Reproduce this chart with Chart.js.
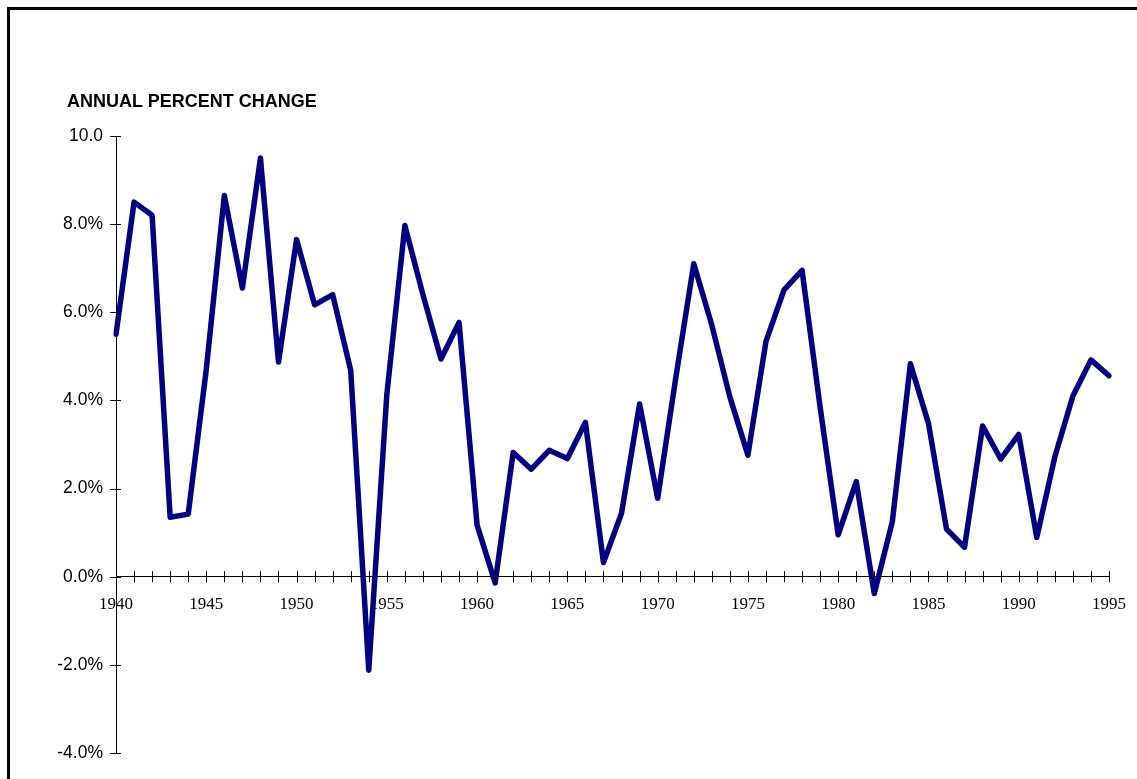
<!DOCTYPE html>
<html>
<head>
<meta charset="utf-8">
<script src="https://cdn.jsdelivr.net/npm/chart.js@4/dist/chart.umd.min.js"></script>
<style>
  html, body { margin: 0; padding: 0; background: #fff; overflow: hidden; }
  #wrap { position: relative; width: 1137px; height: 779px; }
  #frame {
    position: absolute; left: 7px; top: 7px; width: 2000px; height: 2000px;
    border-left: 3px solid #000; border-top: 3px solid #000; pointer-events: none;
  }
  #title {
    position: absolute; left: 67px; top: 91px; line-height: 18px;
    font: bold 18px "Liberation Sans", Arial, sans-serif; color: #000; white-space: nowrap;
  }
  canvas { position: absolute; left: 0; top: 0; }
</style>
</head>
<body>
<div id="wrap">
  <canvas id="chart" width="1137" height="779"></canvas>
  <div id="frame"></div>
  <div id="title">ANNUAL PERCENT CHANGE</div>
</div>
<script>
const years = [];
for (let y = 1940; y <= 1995; y++) years.push(y);

const pctChange = [
  5.5, 8.5, 8.2, 1.35, 1.42, 4.7, 8.65, 6.55, 9.5, 4.87,
  7.65, 6.17, 6.4, 4.68, -2.12, 4.13, 7.97, 6.4, 4.94, 5.77,
  1.17, -0.14, 2.82, 2.44, 2.87, 2.68, 3.5, 0.32, 1.44, 3.92,
  1.78, 4.5, 7.1, 5.71, 4.08, 2.76, 5.34, 6.51, 6.95, 3.85,
  0.95, 2.16, -0.38, 1.25, 4.83, 3.48, 1.08, 0.67, 3.42, 2.67,
  3.23, 0.89, 2.72, 4.1, 4.92, 4.56
];

const yMin = -4, yMax = 10, yStep = 2;

// tick marks that cross the axis lines
const crossTicks = {
  id: 'crossTicks',
  afterDraw(chart) {
    const { ctx, scales: { x, y } } = chart;
    const y0 = y.getPixelForValue(0);
    ctx.save();
    ctx.strokeStyle = '#000';
    ctx.lineWidth = 1;
    ctx.beginPath();
    x.ticks.forEach((t, i) => {
      const px = Math.round(x.getPixelForTick(i)) + 0.5;
      ctx.moveTo(px, y0 - 5.5);
      ctx.lineTo(px, y0 + 5.5);
    });
    y.ticks.forEach((t, i) => {
      const py = Math.round(y.getPixelForTick(i)) + 0.5;
      ctx.moveTo(x.left - 6, py);
      ctx.lineTo(x.left + 5, py);
    });
    ctx.stroke();
    ctx.restore();
  }
};

new Chart(document.getElementById('chart'), {
  type: 'line',
  data: {
    labels: years,
    datasets: [{
      data: pctChange,
      borderColor: '#000080',
      borderWidth: 5.5,
      borderJoinStyle: 'round',
      borderCapStyle: 'round',
      pointRadius: 0,
      tension: 0,
      fill: false
    }]
  },
  options: {
    responsive: false,
    animation: false,
    layout: { padding: { left: 0, top: 136, right: 28, bottom: 26 } },
    plugins: { legend: { display: false }, tooltip: { enabled: false } },
    scales: {
      x: {
        type: 'category',
        offset: false,
        position: { y: 0 },
        grid: { display: false, drawTicks: false, tickLength: 0 },
        border: { display: true, color: '#000', width: 1 },
        ticks: {
          autoSkip: false,
          maxRotation: 0,
          padding: 18,
          color: '#000',
          font: { family: '"Liberation Serif", "Times New Roman", serif', size: 17 },
          callback: (v, i) => (years[i] % 5 === 0 ? String(years[i]) : '')
        },
        afterFit: s => { s.height = 0; s.paddingLeft = 0; s.paddingRight = 0; }
      },
      y: {
        min: yMin,
        max: yMax,
        grid: { display: false, drawTicks: false, tickLength: 0 },
        border: { display: true, color: '#000', width: 1 },
        ticks: {
          stepSize: yStep,
          padding: 13,
          color: '#000',
          font: { family: '"Liberation Sans", Arial, sans-serif', size: 17.5 },
          callback: v => (v === yMax ? v.toFixed(1) : v.toFixed(1) + '%')
        },
        afterFit: s => { s.width = 116; }
      }
    }
  },
  plugins: [crossTicks]
});
</script>
</body>
</html>
